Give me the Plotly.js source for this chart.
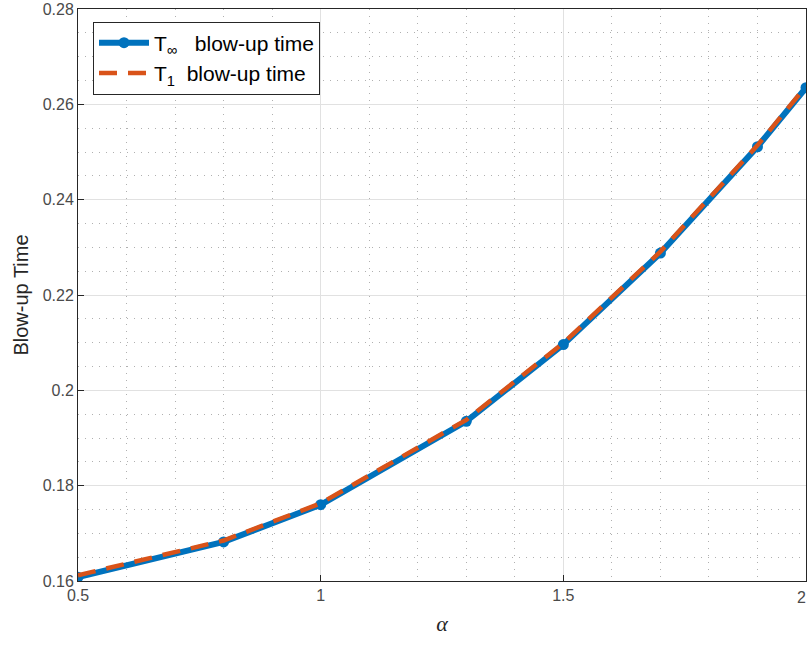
<!DOCTYPE html>
<html>
<head>
<meta charset="utf-8">
<script src="https://cdn.plot.ly/plotly-3.0.1.min.js"></script>
<style>html,body{margin:0;padding:0;background:#fff;}#chart{width:808px;height:647px;}</style>
</head>
<body>
<div id="chart"></div>
<script>
const alphaVals = [0.5, 0.8, 1.0, 1.3, 1.5, 1.7, 1.9, 2.0];
const tInf = [0.1608, 0.1682, 0.1760, 0.1935, 0.2096, 0.2288, 0.2511, 0.2635];
const tOne = [0.1612, 0.1685, 0.1763, 0.1938, 0.2099, 0.2291, 0.2514, 0.2638];
const yTickVals = [0.16, 0.18, 0.2, 0.22, 0.24, 0.26, 0.28];
const yTickText = ['0.16', '0.18', '0.2', '0.22', '0.24', '0.26', '0.28'];
const xTickVals = [0.5, 1, 1.5, 2];
const xTickText = ['0.5', '1', '1.5', '2'];

const tickFont = {family: 'Liberation Sans, Arial, sans-serif', size: 16, color: '#4a4a4a'};

const traces = [
  {
    x: alphaVals, y: tInf, type: 'scatter', mode: 'lines+markers',
    name: 'T<sub>∞</sub>   blow-up time', legendgroup: 'a',
    line: {color: '#0072BD', width: 6},
    marker: {color: '#0072BD', size: 11, symbol: 'circle'}
  },
  {
    x: alphaVals, y: tOne, type: 'scatter', mode: 'lines',
    name: 'T<sub>1</sub>  blow-up time', legendgroup: 'b',
    line: {color: '#D95319', width: 4.5, dash: '18px,11px'}
  }
];

const axisCommon = {
  showline: true, mirror: true, linecolor: '#262626', linewidth: 1,
  ticks: 'inside', ticklen: 6, tickcolor: '#262626',
  showgrid: true, gridcolor: '#e1e1e1', gridwidth: 1,
  zeroline: false,
  tickfont: tickFont
};

const layout = {
  width: 808, height: 647,
  margin: {l: 78, r: 2, t: 9, b: 66},
  paper_bgcolor: '#ffffff', plot_bgcolor: '#ffffff',
  showlegend: true,
  legend: {
    x: 0.0206, y: 0.978, xanchor: 'left', yanchor: 'top',
    bgcolor: '#ffffff', bordercolor: '#262626', borderwidth: 1,
    font: {family: 'Liberation Sans, Arial, sans-serif', size: 21, color: '#000'},
    tracegroupgap: 0, itemwidth: 50
  },
  xaxis: Object.assign({}, axisCommon, {
    range: [0.5, 2], tickvals: xTickVals.slice(0, 3), ticktext: xTickText.slice(0, 3),
    minor: {dtick: 0.1, showgrid: true, gridcolor: '#b0b0b0', griddash: '1px,6px', gridwidth: 1},
    title: {text: '<i>α</i>', font: {family: 'Liberation Serif, Times New Roman, serif', size: 22, color: '#262626'}, standoff: 12}
  }),
  yaxis: Object.assign({}, axisCommon, {
    range: [0.16, 0.28], tickvals: yTickVals, ticktext: yTickText,
    minor: {dtick: 0.005, showgrid: true, gridcolor: '#b0b0b0', griddash: '1px,6px', gridwidth: 1},
    title: {text: 'Blow-up Time', font: {family: 'Liberation Sans, Arial, sans-serif', size: 20, color: '#262626'}, standoff: 8}
  }),
  annotations: [{
    x: xTickVals[3], y: 0, xref: 'x', yref: 'paper', text: xTickText[3],
    showarrow: false, xanchor: 'right', xshift: 2, yanchor: 'top', yshift: -6,
    font: tickFont
  }]
};

Plotly.newPlot('chart', traces, layout, {displayModeBar: false, staticPlot: true});
</script>
</body>
</html>
